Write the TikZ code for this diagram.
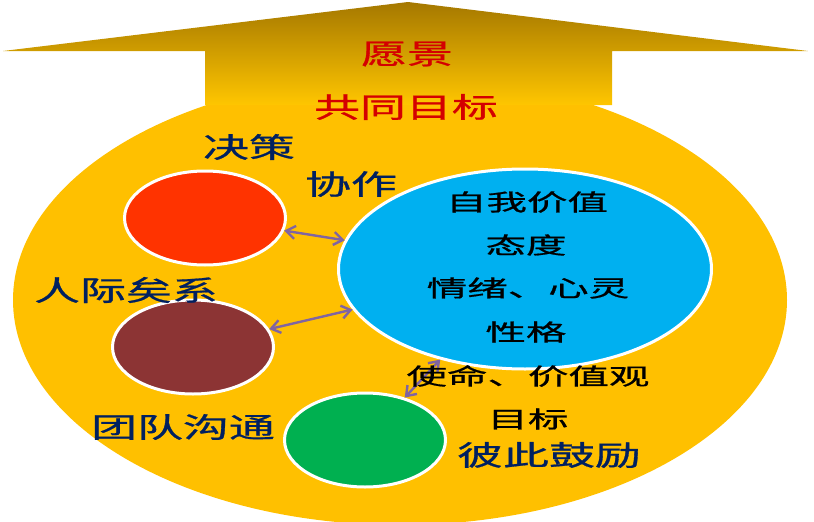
\documentclass[tikz,border=0pt]{standalone}
\usepackage{fontspec}
\usepackage{graphicx}
\newfontfamily\cjk[FakeBold=0.7]{Noto Sans CJK SC}
\usetikzlibrary{arrows.meta,shapes.geometric}
\definecolor{gold}{HTML}{FFC000}
\definecolor{goldtop}{HTML}{A57800}
\definecolor{goldbot}{HTML}{FFC600}
\definecolor{navy}{HTML}{002060}
\definecolor{redtxt}{HTML}{D40000}
\definecolor{redfill}{HTML}{FF3300}
\definecolor{brownfill}{HTML}{8C3434}
\definecolor{greenfill}{HTML}{00B050}
\definecolor{bluefill}{HTML}{00B0F0}
\definecolor{linkcol}{HTML}{8064A2}
\newcommand\hstretch[2]{\scalebox{#1}[1]{#2}}
\begin{document}
\begin{tikzpicture}[x=1pt,y=-1pt,
  bubble/.style={ellipse, draw=white, line width=3pt, inner sep=0pt,
    minimum width=161pt, minimum height=94pt},
  bigtxt/.style={inner sep=0pt, font=\cjk\fontsize{28}{30}\selectfont},
  redlabel/.style={bigtxt, text=redtxt},
  navylabel/.style={bigtxt, text=navy},
  blacklabel/.style={inner sep=0pt, text=black, font=\cjk\fontsize{23}{25}\selectfont},
  link/.style={draw=linkcol, line width=2.4pt,
    {Straight Barb[length=9pt,width=13pt]}-{Straight Barb[length=9pt,width=13pt]}}]
\useasboundingbox (0,0) rectangle (814,522);
% big yellow body
\fill[gold] (400,300) ellipse [x radius=387, y radius=225];
% upward arrow
\shade[top color=goldtop, bottom color=goldbot]
  (408,2) -- (808,51) -- (612,51) -- (612,105) -- (205,105) -- (205,51) -- (3,51) -- cycle;
% bubbles
\node[bubble, fill=redfill] (dec) at (205,218) {};
\node[bubble, fill=brownfill] (rel) at (193,347) {};
\node[bubble, fill=greenfill] (com) at (365,440) {};
\node[bubble, fill=bluefill, minimum width=373pt, minimum height=200pt] (self) at (525,269) {};
% connectors
\draw[link] (dec) -- (self);
\draw[link] (rel) -- (self);
\draw[link] (self) -- (com);
% labels
\node[redlabel] (vision) at (407,54) {\hstretch{1.64}{愿景}};
\node[redlabel] (goal) at (406,107) {\hstretch{1.64}{共同目标}};
\node[navylabel] (tdec) at (249,147) {\hstretch{1.64}{决策}};
\node[navylabel] (tcoop) at (351,184) {\hstretch{1.64}{协作}};
\node[navylabel] (trel) at (126,290) {\hstretch{1.64}{人际矣系}};
\node[navylabel] (tcom) at (183,427) {\hstretch{1.64}{团队沟通}};
\node[navylabel] (tenc) at (549,455) {\hstretch{1.64}{彼此鼓励}};
\node[blacklabel] (s1) at (527,202) {\hstretch{1.76}{自我价值}};
\node[blacklabel] (s2) at (526,245) {\hstretch{1.76}{态度}};
\node[blacklabel] (s3) at (528,288) {\hstretch{1.76}{情绪、心灵}};
\node[blacklabel] (s4) at (526,332) {\hstretch{1.76}{性格}};
\node[blacklabel] (m1) at (528,376) {\hstretch{1.76}{使命、价值观}};
\node[blacklabel] (m2) at (528,419) {\hstretch{1.76}{目标}};
\end{tikzpicture}
\end{document}
